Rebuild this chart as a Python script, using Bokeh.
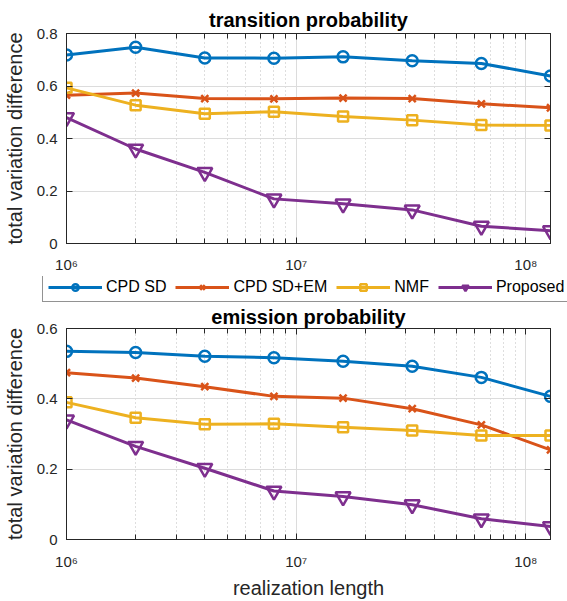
from bokeh.plotting import figure
from bokeh.models import (Range1d, FixedTicker, LogAxis, LinearAxis,
                          CustomJSTickFormatter, Legend, LegendItem, ColumnDataSource)
from bokeh.embed import file_html
from bokeh.resources import INLINE

# ---------------- data ----------------
lengths = [1e6, 2e6, 4e6, 8e6, 1.6e7, 3.2e7, 6.4e7, 1.28e8]
series_names = ["CPD SD", "CPD SD+EM", "NMF", "Proposed"]

trans_cpd_sd = [0.718, 0.748, 0.707, 0.706, 0.711, 0.696, 0.686, 0.638]
trans_cpd_sd_em = [0.565, 0.573, 0.552, 0.551, 0.554, 0.552, 0.532, 0.517]
trans_nmf = [0.593, 0.527, 0.494, 0.502, 0.484, 0.470, 0.451, 0.450]
trans_proposed = [0.480, 0.360, 0.271, 0.170, 0.151, 0.128, 0.066, 0.049]

emis_cpd_sd = [0.535, 0.532, 0.521, 0.517, 0.507, 0.4925, 0.461, 0.407]
emis_cpd_sd_em = [0.4745, 0.459, 0.4345, 0.407, 0.402, 0.372, 0.326, 0.255]
emis_nmf = [0.390, 0.346, 0.328, 0.329, 0.3195, 0.310, 0.296, 0.296]
emis_proposed = [0.340, 0.265, 0.2025, 0.138, 0.122, 0.099, 0.059, 0.037]

x_major = [1e6, 1e7, 1e8]
trans_yticks = [0, 0.2, 0.4, 0.6, 0.8]
emis_yticks = [0, 0.2, 0.4, 0.6]

# ---------------- style ----------------
FONT = "Liberation Sans"
TXT = "#262626"
colors = ["#0072BD", "#D95319", "#EDB120", "#7E2F8E"]
markers = ["circle", "x", "square", "inverted_triangle"]
msizes = [11, 10, 10, 15]
LW = 3

x_minor = [m * d for d in [1e6, 1e7] for m in range(2, 10)]

xfmt_code = """
const sup = {"0":"\u2070","1":"\u00b9","2":"\u00b2","3":"\u00b3","4":"\u2074",
             "5":"\u2075","6":"\u2076","7":"\u2077","8":"\u2078","9":"\u2079"};
const e = Math.round(Math.log10(tick));
return "10" + String(e).split("").map(c => sup[c]).join("");
"""
yfmt_code = "return Math.abs(tick) < 1e-9 ? '0' : tick.toFixed(1);"
blank_code = "return '';"


def add_series(p, ys):
    rends = []
    for vals, c, m, s in zip(ys, colors, markers, msizes):
        src = ColumnDataSource(dict(x=lengths, y=vals))
        r1 = p.line("x", "y", source=src, line_color=c, line_width=LW)
        r2 = p.scatter("x", "y", source=src, marker=m, size=s, line_color=c,
                       line_width=2.5, fill_color=None)
        rends.append([r1, r2])
    return rends


def panel(title, ys, ymax, yticks, height, btop, bbottom, xlabel, tstand, xstand):
    p = figure(width=567, height=height, x_axis_type="log",
               x_range=Range1d(1e6, 1.28e8), y_range=Range1d(0, ymax),
               output_backend="svg", toolbar_location=None,
               min_border_left=66, min_border_right=17,
               min_border_top=btop, min_border_bottom=bbottom,
               background_fill_color="white", border_fill_color="white")
    p.outline_line_color = TXT
    p.outline_line_width = 1

    xt = FixedTicker(ticks=x_major, minor_ticks=x_minor)
    yt = FixedTicker(ticks=yticks)

    p.title.text = title
    p.title.align = "center"
    p.title.text_font = FONT
    p.title.text_font_size = "20px"
    p.title.text_font_style = "bold"
    p.title.text_color = "black"
    p.title.standoff = tstand

    xa = p.xaxis[0]
    xa.ticker = xt
    xa.formatter = CustomJSTickFormatter(code=xfmt_code)
    ya = p.yaxis[0]
    ya.ticker = yt
    ya.formatter = CustomJSTickFormatter(code=yfmt_code)
    ya.axis_label = "total variation difference"
    if xlabel:
        xa.axis_label = xlabel
    for ax in (xa, ya):
        ax.axis_line_color = TXT
        ax.major_tick_line_color = TXT
        ax.minor_tick_line_color = TXT
        ax.major_tick_in = 6
        ax.major_tick_out = 0
        ax.minor_tick_in = 5
        ax.minor_tick_out = 0
        ax.major_label_text_font = FONT
        ax.major_label_text_font_size = "15px"
        ax.major_label_text_color = TXT
        ax.axis_label_text_font = FONT
        ax.axis_label_text_font_size = "20px"
        ax.axis_label_text_font_style = "normal"
        ax.axis_label_text_color = TXT
    ya.minor_tick_in = 0
    ya.major_label_standoff = 9
    ya.axis_label_standoff = 8
    xa.major_label_standoff = xstand
    xa.axis_label_standoff = 4

    top = LogAxis(ticker=xt, formatter=CustomJSTickFormatter(code=blank_code),
                  major_label_text_font_size="1px",
                  major_label_standoff=0, major_tick_in=6, major_tick_out=0,
                  minor_tick_in=5, minor_tick_out=0, axis_line_color=TXT,
                  major_tick_line_color=TXT, minor_tick_line_color=TXT)
    right = LinearAxis(ticker=yt, formatter=CustomJSTickFormatter(code=blank_code),
                       major_label_text_font_size="1px",
                       major_label_standoff=0, major_tick_in=6, major_tick_out=0,
                       minor_tick_in=0, minor_tick_out=0, axis_line_color=TXT,
                       major_tick_line_color=TXT)
    p.add_layout(top, "above")
    p.add_layout(right, "right")

    xg = p.xgrid[0]
    xg.ticker = xt
    xg.grid_line_color = "#dcdcdc"
    xg.minor_grid_line_color = "#bdbdbd"
    xg.minor_grid_line_dash = "1 3"
    yg = p.ygrid[0]
    yg.ticker = yt
    yg.grid_line_color = "#dcdcdc"

    add_series(p, ys)
    return p


p1 = panel("transition probability",
           [trans_cpd_sd, trans_cpd_sd_em, trans_nmf, trans_proposed],
           0.8, trans_yticks, 276, 33, 33, None, 6, 12)

# legend strip: its own root, full-width frame so the legend is not clipped
p2 = figure(width=567, height=26, output_backend="svg", toolbar_location=None,
            x_axis_type=None, y_axis_type=None,
            min_border_left=0, min_border_right=0,
            min_border_top=0, min_border_bottom=0,
            x_range=Range1d(0, 1), y_range=Range1d(0, 1),
            background_fill_color="white", border_fill_color="white")
p2.outline_line_color = None
p2.grid.visible = False
nan = float("nan")
rends2 = add_series(p2, [[nan] * len(lengths)] * 4)
items = [LegendItem(label=n, renderers=r) for n, r in zip(series_names, rends2)]
leg = Legend(items=items, orientation="horizontal", location=(42, 0),
             margin=0, padding=5, spacing=9, label_standoff=4,
             glyph_width=54, glyph_height=16, label_height=16,
             label_text_font=FONT, label_text_font_size="16px",
             label_text_color="black", border_line_color=TXT,
             border_line_width=1, background_fill_color="white",
             background_fill_alpha=1)
p2.add_layout(leg)

p3 = panel("emission probability",
           [emis_cpd_sd, emis_cpd_sd_em, emis_nmf, emis_proposed],
           0.6, emis_yticks, 299, 26, 62, "realization length", 2, 13)

with open("out.html", "w", encoding="utf-8") as f:
    f.write(file_html([p1, p2, p3], INLINE))
